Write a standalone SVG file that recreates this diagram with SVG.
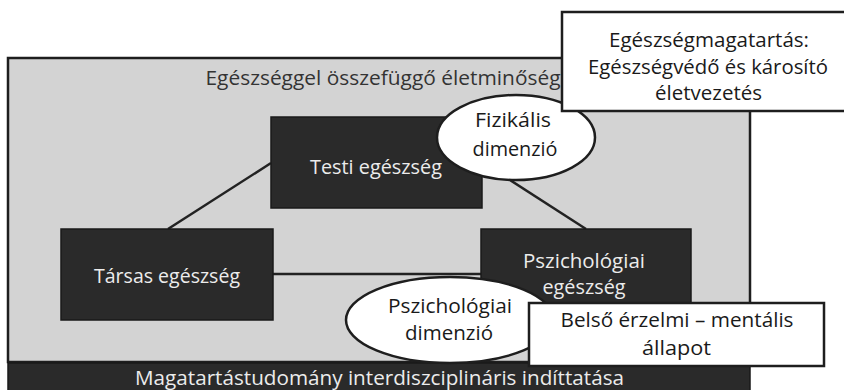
<svg xmlns="http://www.w3.org/2000/svg" width="844" height="390" viewBox="0 0 844 390">
  <style>
    text { font-family: "Open Sans", "Noto Sans", "Liberation Sans", sans-serif; font-size: 20.5px; text-anchor: middle; }
    .frame { fill: #d3d3d3; stroke: #1e1e1e; stroke-width: 2.5; }
    .dark { fill: #2a2a2a; stroke: #1a1a1a; stroke-width: 1.5; }
    .light { fill: #ffffff; stroke: #1e1e1e; stroke-width: 2.5; }
    .oval { fill: #ffffff; stroke: #1e1e1e; stroke-width: 2.5; }
    .onDark { fill: #ececec; }
    .onLight { fill: #1a1a1a; }
    .title { fill: #333333; }
    .link { stroke: #222222; stroke-width: 2.5; fill: none; }
  </style>

  <!-- outer frame: quality of life -->
  <g id="frame">
    <rect class="frame" x="8" y="58" width="742" height="304"/>
    <text class="title" x="383" y="85" textLength="355" lengthAdjust="spacingAndGlyphs">Egészséggel összefüggő életminőség</text>
  </g>

  <!-- bottom bar -->
  <g id="bar">
    <rect class="dark" x="8" y="363" width="742" height="30"/>
    <text class="onDark" x="379.5" y="385" textLength="489" lengthAdjust="spacingAndGlyphs">Magatartástudomány interdiszciplináris indíttatása</text>
  </g>

  <!-- connectors -->
  <g id="connectors">
    <line class="link" x1="271" y1="163" x2="168" y2="229"/>
    <line class="link" x1="482" y1="162" x2="586" y2="229"/>
    <line class="link" x1="273" y1="274" x2="481" y2="274"/>
  </g>

  <g id="testi">
    <rect class="dark" x="271" y="117" width="211" height="91"/>
    <text class="onDark" x="376" y="174" textLength="132" lengthAdjust="spacingAndGlyphs">Testi egészség</text>
  </g>

  <g id="tarsas">
    <rect class="dark" x="61" y="229" width="212" height="91"/>
    <text class="onDark" x="167" y="283" textLength="146" lengthAdjust="spacingAndGlyphs">Társas egészség</text>
  </g>

  <g id="pszich">
    <rect class="dark" x="481" y="229" width="210" height="91"/>
    <text class="onDark" x="584" y="268" textLength="122" lengthAdjust="spacingAndGlyphs">Pszichológiai</text>
    <text class="onDark" x="584" y="294" textLength="83" lengthAdjust="spacingAndGlyphs">egészség</text>
  </g>

  <g id="fizikalis">
    <ellipse class="oval" cx="516" cy="137.5" rx="79" ry="42.5"/>
    <text class="onLight" x="513" y="127" textLength="76" lengthAdjust="spacingAndGlyphs">Fizikális</text>
    <text class="onLight" x="515" y="156" textLength="85" lengthAdjust="spacingAndGlyphs">dimenzió</text>
  </g>

  <g id="egeszsegmagatartas">
    <rect class="light" x="562" y="12" width="300" height="99"/>
    <text class="onLight" x="709" y="47" textLength="200" lengthAdjust="spacingAndGlyphs">Egészségmagatartás:</text>
    <text class="onLight" x="708" y="74" textLength="240" lengthAdjust="spacingAndGlyphs">Egészségvédő és károsító</text>
    <text class="onLight" x="708.5" y="100" textLength="107" lengthAdjust="spacingAndGlyphs">életvezetés</text>
  </g>

  <g id="pszich-dimenzio">
    <ellipse class="oval" cx="450" cy="320" rx="104" ry="43"/>
    <text class="onLight" x="450" y="313" textLength="124" lengthAdjust="spacingAndGlyphs">Pszichológiai</text>
    <text class="onLight" x="449" y="340" textLength="88" lengthAdjust="spacingAndGlyphs">dimenzió</text>
  </g>

  <g id="belso">
    <rect class="light" x="529" y="303" width="295" height="63"/>
    <text class="onLight" x="677" y="327" textLength="233" lengthAdjust="spacingAndGlyphs">Belső érzelmi – mentális</text>
    <text class="onLight" x="676.5" y="355" textLength="69" lengthAdjust="spacingAndGlyphs">állapot</text>
  </g>
</svg>
